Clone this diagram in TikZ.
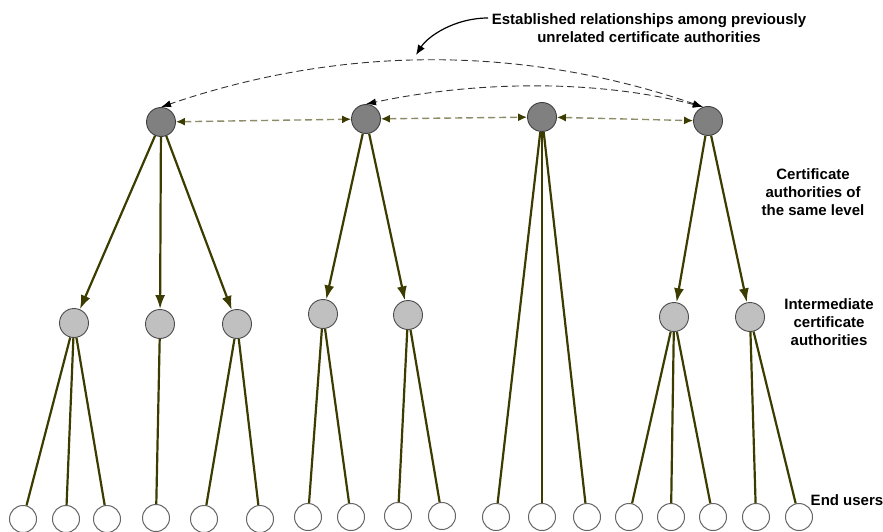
\documentclass[tikz,border=0pt]{standalone}
\usepackage{fontspec}
\setmainfont{Liberation Sans}
\usetikzlibrary{arrows.meta}
\definecolor{branch}{RGB}{60,60,0}
\definecolor{peerline}{RGB}{140,140,105}
\definecolor{rootfill}{RGB}{128,128,128}
\definecolor{midfill}{RGB}{192,192,192}
\begin{document}
\begin{tikzpicture}[x=1pt,y=-1pt,
  root/.style={circle,draw=black!75,fill=rootfill,line width=0.9pt,minimum size=29pt,inner sep=0pt},
  mid/.style={circle,draw=black!70,fill=midfill,line width=0.9pt,minimum size=29pt,inner sep=0pt},
  leaf/.style={circle,draw=black!60,fill=white,line width=1pt,minimum size=27pt,inner sep=0pt},
  branchline/.style={draw=branch,line width=2.2pt},
  down/.style={branchline,-{Latex[length=14pt,width=10pt]}},
  peer/.style={draw=peerline,line width=1.4pt,dash pattern=on 7pt off 4pt,
    {Latex[length=9pt,width=8pt,color=branch]}-{Latex[length=9pt,width=8pt,color=branch]}},
  link/.style={draw=black!80,line width=0.9pt,dash pattern=on 7pt off 4pt,
    {Latex[length=10pt,width=7pt,color=black]}-{Latex[length=10pt,width=7pt,color=black]}},
  caption/.style={font=\bfseries\fontsize{15}{18}\selectfont,align=center,inner sep=0pt}
]
\useasboundingbox (0,0) rectangle (883,532);

% certificate authorities of the same level
\node[root] (A) at (161,122) {};
\node[root] (B) at (366,119) {};
\node[root] (C) at (542,117) {};
\node[root] (D) at (708,121) {};

% intermediate certificate authorities
\node[mid] (m1) at (74,323) {};
\node[mid] (m2) at (160,324) {};
\node[mid] (m3) at (237,324) {};
\node[mid] (m4) at (323,314) {};
\node[mid] (m5) at (408,315) {};
\node[mid] (m6) at (674,317) {};
\node[mid] (m7) at (750,317) {};

% end users
\foreach \n/\x/\y in {l1/23/519,l2/66/519,l3/107/519,l4/156/518,l5/204/519,l6/260/519,
  l7/308/517,l8/351/517,l9/398/516,l10/442/516,l11/496/517,l12/542/517,l13/587/517,
  l14/629/517,l15/671/517,l16/713/517,l17/756/517,l18/799/517}
  \node[leaf] (\n) at (\x,\y) {};

% hierarchy
\draw[down] (A) -- (m1);
\draw[down] (A) -- (m2);
\draw[down] (A) -- (m3);
\draw[down] (B) -- (m4);
\draw[down] (B) -- (m5);
\draw[down] (D) -- (m6);
\draw[down] (D) -- (m7);

\draw[branchline] (m1) -- (l1);
\draw[branchline] (m1) -- (l2);
\draw[branchline] (m1) -- (l3);
\draw[branchline] (m2) -- (l4);
\draw[branchline] (m3) -- (l5);
\draw[branchline] (m3) -- (l6);
\draw[branchline] (m4) -- (l7);
\draw[branchline] (m4) -- (l8);
\draw[branchline] (m5) -- (l9);
\draw[branchline] (m5) -- (l10);
\draw[branchline] (C) -- (l11);
\draw[branchline] (C) -- (l12);
\draw[branchline] (C) -- (l13);
\draw[branchline] (m6) -- (l14);
\draw[branchline] (m6) -- (l15);
\draw[branchline] (m6) -- (l16);
\draw[branchline] (m7) -- (l17);
\draw[branchline] (m7) -- (l18);

% cross relationships between peers
\draw[peer] (A) -- (B);
\draw[peer] (B) -- (C);
\draw[peer] (C) -- (D);
\draw[link] (D.110) .. controls (523,45) and (342,45) .. (A.north);
\draw[link] (D.110) .. controls (600,80) and (480,80) .. (B.north);

% labels
\node[caption,anchor=north] (note) at (649,13.5)
  {Established relationships among previously\\unrelated certificate authorities};
\coordinate (noteTail) at (488,18);
\coordinate (noteTip) at (416,55);
\draw[black,line width=1.2pt,-{Latex[length=10pt,width=8pt]}]
  (noteTail) .. controls (455,18) and (428,36) .. (noteTip);

\node[caption] (lvl) at (813,192) {Certificate\\authorities of\\the same level};
\node[caption] (inter) at (829,322) {Intermediate\\certificate\\authorities};
\node[caption] (users) at (847,500) {End users};
\end{tikzpicture}
\end{document}
